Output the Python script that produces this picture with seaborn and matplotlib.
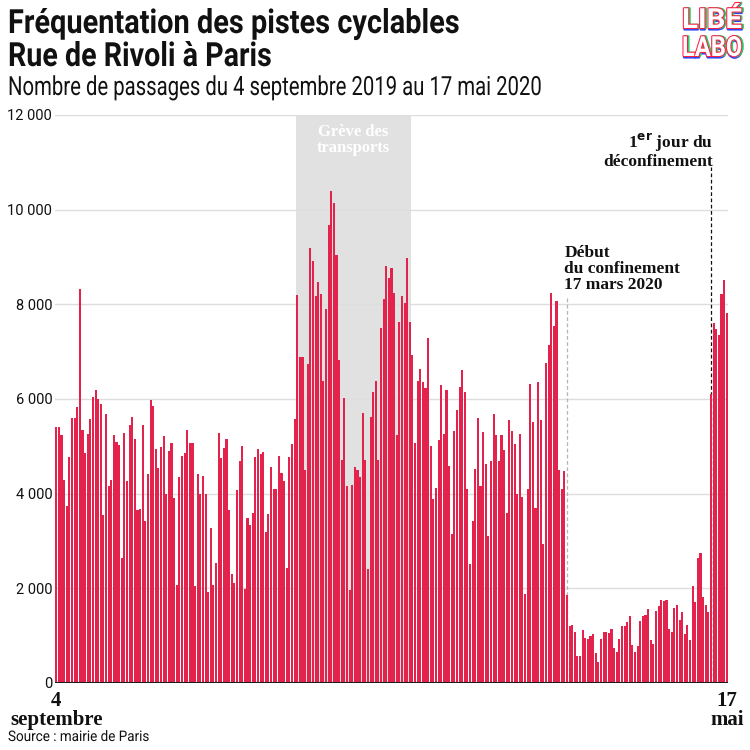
#!/usr/bin/env python3
"""
Bar chart: daily bike counts on the Rue de Rivoli cycle lane, 4 Sept 2019 - 17 May 2020.
"""

import matplotlib
matplotlib.use("Agg")
import matplotlib.pyplot as plt
from matplotlib import patheffects as pe
from matplotlib.transforms import Affine2D, blended_transform_factory
from matplotlib.ticker import FuncFormatter
import pandas as pd
import seaborn as sns


START = "2019-09-04"
END = "2020-05-17"

# daily passages (one value per day)
PASSAGES = [
    5400, 5400, 5250, 4280, 3750, 4770, 5600, 5600, 5840, 8330,
    5340, 4860, 5270, 5580, 6050, 6180, 6000, 5890, 3550, 5690,
    4160, 4290, 5250, 5100, 5020, 2650, 5290, 4270, 5450, 5610,
    5150, 3650, 3680, 5460, 3420, 4410, 5980, 5860, 4940, 4550,
    4980, 5210, 3990, 4900, 5060, 3910, 2060, 4350, 4790, 4860,
    5340, 5060, 5060, 2040, 4410, 4000, 4370, 4000, 1920, 3280,
    2080, 2530, 5290, 4750, 4970, 5150, 3650, 2310, 2120, 4070,
    4680, 5000, 1990, 3490, 3340, 3590, 4770, 4940, 4840, 4870,
    3200, 3560, 4560, 4090, 4090, 4800, 4430, 4260, 2440, 4780,
    5040, 5580, 8190, 6880, 6880, 4500, 6730, 9180, 8920, 8180,
    8480, 8220, 6370, 7900, 9670, 10390, 10140, 9040, 6830, 4710,
    6030, 4160, 1970, 4190, 4560, 4490, 4350, 5700, 4720, 2400,
    5620, 6150, 6390, 4710, 7490, 8120, 8800, 8550, 8770, 8240,
    5240, 7620, 8180, 8030, 8980, 7630, 6940, 5060, 6370, 6630,
    6350, 6230, 7280, 5010, 3890, 4130, 5130, 6300, 5270, 6190,
    4580, 3140, 5320, 5760, 6250, 6620, 6150, 4100, 2510, 3420,
    4530, 5600, 4170, 5300, 4630, 3100, 4700, 5690, 5250, 4680,
    5250, 4930, 3590, 5560, 5320, 5040, 4000, 5270, 3940, 1890,
    4100, 6320, 5520, 3700, 6350, 5550, 2930, 6770, 7140, 8250,
    7550, 8080, 4510, 4100, 4470, 1850, 1200, 1230, 1070, 560,
    560, 1130, 950, 920, 1000, 1040, 630, 440, 920, 1080,
    1080, 1060, 1140, 740, 650, 940, 1210, 1210, 1280, 1410,
    800, 650, 790, 1300, 1410, 1440, 1560, 910, 820, 1520,
    1620, 1750, 1740, 1750, 1150, 1070, 1580, 1650, 1340, 1500,
    1030, 1220, 910, 2050, 1720, 2640, 2740, 1820, 1640, 1490,
    6100, 7610, 7470, 7350, 8210, 8510, 7820,
]

Y_TICKS = [0, 2000, 4000, 6000, 8000, 10000, 12000]

STRIKE_START = "2019-12-05"
STRIKE_END = "2020-01-17"
CONFINEMENT = "2020-03-17"
DECONFINEMENT = "2020-05-11"

RED = "#e4234c"
INK = "#111111"
SANS = ["Roboto", "DejaVu Sans"]
SERIF = ["Liberation Serif", "DejaVu Serif"]


class Squeezed(pe.AbstractPathEffect):
    """Wrap a path effect so the text is narrowed around a fixed x (display px)."""

    def __init__(self, inner, sx, x0):
        super().__init__()
        self.inner = inner
        self.sx = sx
        self.x0 = x0

    def draw_path(self, renderer, gc, tpath, affine, rgbFace=None):
        aff = affine + Affine2D().translate(-self.x0, 0).scale(self.sx, 1).translate(self.x0, 0)
        self.inner.draw_path(renderer, gc, tpath, aff, rgbFace)


def narrow_text(fig, txt, target_px, effects=None, anchor="left"):
    fig.canvas.draw()
    bb = txt.get_window_extent()
    x0 = bb.x0 if anchor == "left" else bb.x1
    effects = effects or [pe.Normal()]
    txt.set_path_effects([Squeezed(eff, target_px / bb.width, x0) for eff in effects])


def main() -> None:
    days = pd.date_range(START, END, freq="D")
    df = pd.DataFrame({"jour": days.strftime("%Y-%m-%d"), "passages": PASSAGES})

    sns.set_style("white")
    plt.rcParams["font.family"] = SANS

    fig = plt.figure(figsize=(7.5, 7.5), dpi=100)
    ax = fig.add_axes([55 / 750, 1 - 683 / 750, 673 / 750, 568 / 750])

    sns.barplot(data=df, x="jour", y="passages", color=RED, saturation=1,
                width=0.8, linewidth=0, ax=ax, zorder=3)

    s = days.get_loc(pd.Timestamp(STRIKE_START))
    e = days.get_loc(pd.Timestamp(STRIKE_END))
    c = days.get_loc(pd.Timestamp(CONFINEMENT))
    d = days.get_loc(pd.Timestamp(DECONFINEMENT))

    ax.axvspan(s - 0.5, e + 0.5, color="#e1e1e1", zorder=0.2, lw=0)

    ax.set_xlim(-0.5, len(days) - 0.5)
    ax.set_ylim(0, 12000)
    ax.set_yticks(Y_TICKS)
    ax.yaxis.set_major_formatter(FuncFormatter(lambda v, _: f"{int(v):,}".replace(",", " ")))
    ax.yaxis.grid(True, color="#dddddd", lw=1)
    ax.set_axisbelow(True)
    ax.tick_params(axis="y", length=0, pad=2, labelsize=10.5, labelcolor=INK)
    ax.set_xticks([])
    ax.set_xlabel("")
    ax.set_ylabel("")
    for sp in ax.spines.values():
        sp.set_visible(False)
    ax.axhline(0, color="#1c1c1c", lw=2.2, zorder=4)

    # event markers
    ax.vlines(c, 0, 8150, colors="#b5b5b5", linestyles=(0, (3, 2)), lw=0.9, zorder=2)
    ax.vlines(d, 0, 10900, colors=INK, linestyles=(0, (3, 2)), lw=0.9, zorder=2)

    ax.text((s + e) / 2, 11800, "Grève des\ntransports", ha="center", va="top",
            color="white", fontsize=12, fontweight="bold", family=SERIF, linespacing=0.95)
    ax.text(c - 1, 9250, "Début\ndu confinement\n17 mars 2020", ha="left", va="top",
            color=INK, fontsize=12.5, fontweight="bold", family=SERIF, linespacing=0.98)
    ax.text(d + 0.6, 11650, "1$^{\\mathbf{er}}$ jour du\ndéconfinement", ha="right", va="top",
            multialignment="right", color=INK, fontsize=12.5, fontweight="bold",
            family=SERIF, linespacing=1.0)

    # x labels under first and last day
    tr = blended_transform_factory(ax.transData, fig.transFigure)
    for xi, lab in ((0, "4\nseptembre"), (len(days) - 1, "17\nmai")):
        ax.text(xi, 1 - 691 / 750, lab, transform=tr, ha="center", va="top",
                fontsize=15, fontweight="bold", family=SERIF, linespacing=0.95,
                color=INK)

    # titles (narrowed to mimic the condensed house font)
    t1 = fig.text(8 / 750, 1 - 33 / 750, "Fréquentation des pistes cyclables",
                  ha="left", va="baseline", fontsize=24, fontweight="bold", color=INK)
    t2 = fig.text(8 / 750, 1 - 66 / 750, "Rue de Rivoli à Paris",
                  ha="left", va="baseline", fontsize=24, fontweight="bold", color=INK)
    t3 = fig.text(8 / 750, 1 - 95 / 750, "Nombre de passages du 4 septembre 2019 au 17 mai 2020",
                  ha="left", va="baseline", fontsize=19, color=INK)
    t4 = fig.text(8 / 750, 1 - 741 / 750, "Source : mairie de Paris",
                  ha="left", va="baseline", fontsize=10.5, color=INK)
    for txt, w in ((t1, 452), (t2, 264), (t3, 533), (t4, 142)):
        narrow_text(fig, txt, w)

    # logo: inline letters with shifted red / green / blue outlines
    logo_fx = [pe.Stroke(offset=(0.4, -1.1), linewidth=1.5, foreground="#2b45ff"),
               pe.Stroke(offset=(1.1, 0), linewidth=1.5, foreground="#22d46a"),
               pe.Stroke(linewidth=1.5, foreground="#ff1f45"),
               pe.Normal()]
    for txt_, top in (("LIBÉ", 7), ("LABO", 35)):
        lg = fig.text(742 / 750, 1 - top / 750, txt_, ha="right", va="top",
                      fontsize=20, fontweight="bold", color="white")
        narrow_text(fig, lg, 60, effects=logo_fx, anchor="right")

    fig.savefig("out.png", dpi=100, facecolor="white")


if __name__ == "__main__":
    main()
